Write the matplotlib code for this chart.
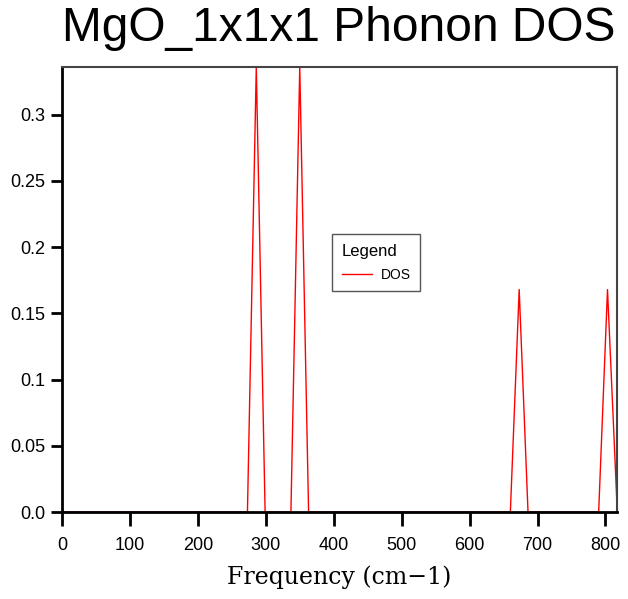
import matplotlib.pyplot as plt

# DOS curve (frequency in cm-1, triangle peaks)
freq = [0, 273, 286, 299, 337, 350, 363, 660, 673, 686, 790, 803, 817]
dos = [0, 0, 0.336, 0, 0, 0.336, 0, 0, 0.168, 0, 0, 0.168, 0.005]

xticks = [0, 100, 200, 300, 400, 500, 600, 700, 800]
yticks = [0.0, 0.05, 0.1, 0.15, 0.2, 0.25, 0.3]
ytick_labels = ['0.0', '0.05', '0.1', '0.15', '0.2', '0.25', '0.3']

plt.rcParams['font.family'] = ['Liberation Sans', 'DejaVu Sans']

fig = plt.figure(figsize=(6.28, 5.99), dpi=100)
ax = fig.add_axes([0.0987, 0.1452, 0.8838, 0.7428])

ax.plot(freq, dos, color='red', lw=1.0, label='DOS')

ax.set_xlim(0, 817)
ax.set_ylim(0, 0.336)
ax.set_xticks(xticks)
ax.set_yticks(yticks)
ax.set_yticklabels(ytick_labels)
ax.tick_params(direction='out', length=8, width=2, labelsize=13, pad=4)
ax.tick_params(axis='x', length=10, pad=8)

for s in ['left', 'bottom']:
    ax.spines[s].set_linewidth(2)
for s in ['top', 'right']:
    ax.spines[s].set_linewidth(1.5)
    ax.spines[s].set_color('#444444')

fig.text(0.54, 0.953, 'MgO_1x1x1 Phonon DOS', fontsize=34.5,
         ha='center', va='center')
ax.set_xlabel('Frequency (cm\u22121)', family='DejaVu Serif', fontsize=17,
              labelpad=8)

leg = ax.legend(title='Legend', loc='center', bbox_to_anchor=(0.566, 0.56),
                fontsize=10, title_fontsize=12, fancybox=False,
                edgecolor='#555555', framealpha=1, handlelength=2.2,
                handletextpad=0.6, borderpad=0.7, labelspacing=0.6)
leg._legend_box.align = 'left'
leg.get_frame().set_linewidth(1.0)

fig.savefig('out.png', dpi=100)
